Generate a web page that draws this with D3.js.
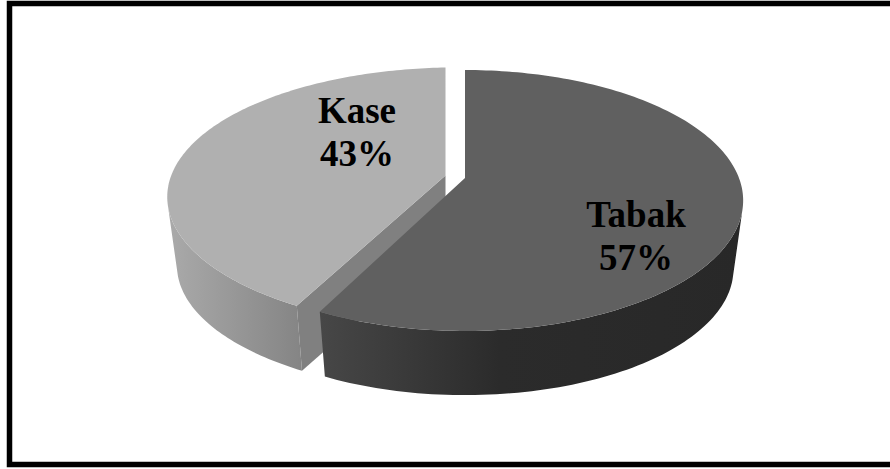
<!DOCTYPE html>
<html lang="en">
<head>
    <meta charset="UTF-8">
    <title>Tabak / Kase</title>
    <script src="https://d3js.org/d3.v7.min.js"></script>
    <style>
        html, body { margin: 0; padding: 0; background: #fff; overflow: hidden; }
        svg { display: block; }
        text { font-family: "Liberation Serif", serif; font-weight: bold; font-size: 37px; fill: #000; }
    </style>
</head>
<body>
    <script>
        // data
        var categories = ["Tabak", "Kase"];
        var values = [57.4, 42.6];
        var topColors = ["#606060", "#b0b0b0"];
        var faceColors = ["#474747", "#808080"];
        var sideStops = [
            [[320, "#474747"], [500, "#2b2b2b"], [740, "#282828"]],
            [[168, "#aaaaaa"], [300, "#858585"]]
        ];

        var width = 890, height = 469;

        // the pie is seen in perspective, so the back radius is shorter than the front one
        var tilt = 0.1724, radiusY = 126.6, depth = 69.5, bottomScale = 0.965;
        // the pulled out slice sits a little differently in the view, hence its own radius and lean
        var views = [
            { x: 465, y: 178, radiusX: 274, lean: 0 },
            { x: 445.5, y: 175.5, radiusX: 288, lean: -0.05 }
        ];
        var labelCenters = [{ x: 636, y: 227 }, { x: 357, y: 123 }];
        var lineStep = 43;

        function project(angle, r, view, isBottom) {
            var u = Math.sin(angle) * r, v = Math.cos(angle) * r;
            var w = 1 + tilt * v + view.lean * u;
            var s = isBottom ? bottomScale : 1;
            return [
                view.x + s * view.radiusX * u / w,
                view.y + (isBottom ? depth : 0) - s * radiusY * v / w
            ];
        }

        function arcPoints(d, view, isBottom) {
            var n = 160;
            return d3.range(n + 1).map(function(i) {
                var a = d.startAngle + (d.endAngle - d.startAngle) * i / n;
                return project(a, 1, view, isBottom);
            });
        }

        var svg = d3.select("body").append("svg")
            .attr("width", width)
            .attr("height", height);

        var defs = svg.append("defs");
        sideStops.forEach(function(stops, i) {
            var grad = defs.append("linearGradient")
                .attr("id", "side" + i)
                .attr("gradientUnits", "userSpaceOnUse")
                .attr("x1", stops[0][0]).attr("x2", stops[stops.length - 1][0])
                .attr("y1", 0).attr("y2", 0);
            var scale = d3.scaleLinear()
                .domain([stops[0][0], stops[stops.length - 1][0]])
                .range([0, 1]);
            stops.forEach(function(s) {
                grad.append("stop").attr("offset", scale(s[0])).attr("stop-color", s[1]);
            });
        });

        // frame, runs off the right edge like the original
        svg.append("rect")
            .attr("x", 9.5).attr("y", 3.5)
            .attr("width", 920).attr("height", 461)
            .attr("fill", "#fff")
            .attr("stroke", "#000")
            .attr("stroke-width", 5.5);

        var pie = d3.pie().sort(null);
        var slices = pie(values);
        var line = d3.line();

        // Kase first, Tabak sits in front of it
        [1, 0].forEach(function(i) {
            var d = slices[i], view = views[i];
            var g = svg.append("g").attr("class", categories[i]);
            var top = arcPoints(d, view, false);
            var bottom = arcPoints(d, view, true);

            // outer wall as thin strips, only the ones facing the viewer
            var wall = "";
            d3.range(top.length - 1).forEach(function(j) {
                var quad = [top[j], top[j + 1], bottom[j + 1], bottom[j]];
                if (d3.polygonArea(quad) > 0) wall += line(quad) + "Z";
            });
            g.append("path")
                .attr("d", wall)
                .attr("fill", "url(#side" + i + ")");

            // cut face on the Kase slice, facing the gap
            if (i === 1) {
                var a = d.startAngle;
                g.append("path")
                    .attr("d", line([
                        project(0, 0, view, false),
                        project(a, 1, view, false),
                        project(a, 1, view, true),
                        project(0, 0, view, true)
                    ]) + "Z")
                    .attr("fill", faceColors[i]);
            }

            g.append("path")
                .attr("d", line([project(0, 0, view, false)].concat(top)) + "Z")
                .attr("fill", topColors[i]);
        });

        // labels on top
        categories.forEach(function(name, i) {
            var share = Math.round(values[i] / d3.sum(values) * 100);
            var t = svg.append("text").attr("text-anchor", "middle");
            t.append("tspan")
                .attr("x", labelCenters[i].x).attr("y", labelCenters[i].y)
                .text(name);
            t.append("tspan")
                .attr("x", labelCenters[i].x).attr("y", labelCenters[i].y + lineStep)
                .text(share + "%");
        });
    </script>
</body>
</html>
